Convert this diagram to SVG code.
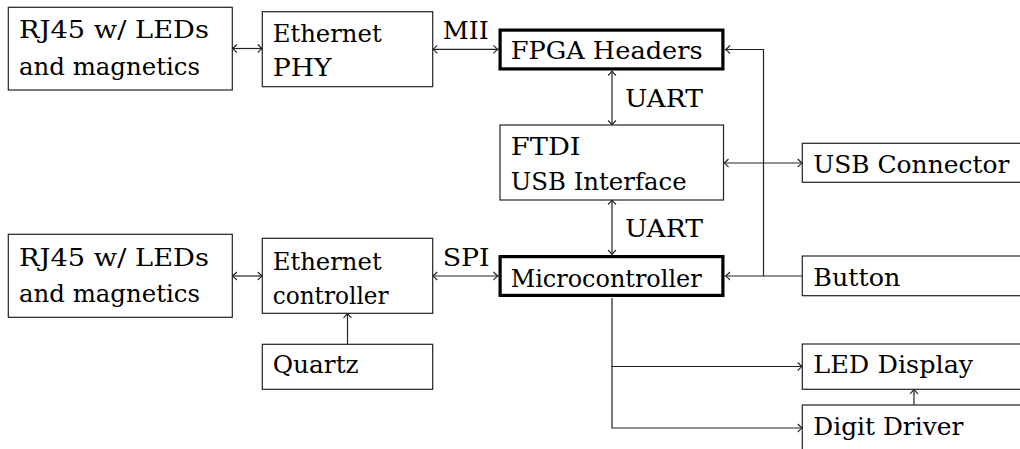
<svg xmlns="http://www.w3.org/2000/svg" width="1020" height="449" viewBox="0 0 1020 449">
<style>
  .box{fill:#fff;stroke:#222;stroke-width:1.2}
  .thick{fill:#fff;stroke:#000;stroke-width:3.2}
  .t{font-family:"DejaVu Serif","Liberation Serif",serif;font-size:25px;fill:#000}
  .c{fill:none;stroke:#222;stroke-width:1.2}
  .a2{marker-start:url(#ah);marker-end:url(#ah)}
  .a1{marker-end:url(#ah)}
</style>
<defs>
  <marker id="ah" markerUnits="userSpaceOnUse" markerWidth="12" markerHeight="12" viewBox="-6 -6 12 12" refX="0" refY="0" orient="auto-start-reverse">
    <path d="M -4.5 -4 Q -1.5 -0.8 0 0 Q -1.5 0.8 -4.5 4" fill="none" stroke="#222" stroke-width="1.1"/>
  </marker>
</defs>
<g id="connectors">
  <line class="c a2" x1="232.3" y1="48.5" x2="262.3" y2="48.5"/>
  <line class="c a2" x1="432.7" y1="49.3" x2="498" y2="49.3"/>
  <line class="c a2" x1="612" y1="71" x2="612" y2="125"/>
  <line class="c a2" x1="724" y1="163" x2="802.3" y2="163"/>
  <line class="c a2" x1="612" y1="200" x2="612" y2="254.5"/>
  <line class="c a2" x1="232.3" y1="276" x2="262.3" y2="276"/>
  <line class="c a2" x1="432.7" y1="276" x2="498" y2="276"/>
  <line class="c a1" x1="347.5" y1="344.3" x2="347.5" y2="313.3"/>
  <line class="c a1" x1="802.3" y1="276" x2="725.5" y2="276"/>
  <polyline class="c a1" points="763.5,276 763.5,49.5 725.5,49.5"/>
  <polyline class="c a1" points="612,298 612,366.5 802.3,366.5"/>
  <polyline class="c a1" points="612,366.5 612,428 802.3,428"/>
  <line class="c a1" x1="914" y1="405" x2="914" y2="389.3"/>
  <text class="t" x="442.7" y="39.3" textLength="46" lengthAdjust="spacingAndGlyphs">MII</text>
  <text class="t" x="625" y="107.3" textLength="78" lengthAdjust="spacingAndGlyphs">UART</text>
  <text class="t" x="625" y="237.3" textLength="78" lengthAdjust="spacingAndGlyphs">UART</text>
  <text class="t" x="442.7" y="266" textLength="47" lengthAdjust="spacingAndGlyphs">SPI</text>
</g>
<g id="rj45-top">
  <rect class="box" x="8.3" y="7.3" width="224" height="82.7"/>
  <text class="t" x="19" y="37.7" textLength="190" lengthAdjust="spacingAndGlyphs">RJ45 w/ LEDs</text>
  <text class="t" x="19" y="74.5" textLength="181" lengthAdjust="spacingAndGlyphs">and magnetics</text>
</g>
<g id="ethernet-phy">
  <rect class="box" x="262.3" y="11.7" width="170.4" height="75"/>
  <text class="t" x="272.7" y="41.7" textLength="109" lengthAdjust="spacingAndGlyphs">Ethernet</text>
  <text class="t" x="272.7" y="76" textLength="59" lengthAdjust="spacingAndGlyphs">PHY</text>
</g>
<g id="fpga-headers">
  <rect class="thick" x="500.1" y="30.1" width="222.8" height="38.8"/>
  <text class="t" x="510.7" y="59.3" textLength="192" lengthAdjust="spacingAndGlyphs">FPGA Headers</text>
</g>
<g id="ftdi">
  <rect class="box" x="500" y="125" width="223.5" height="75"/>
  <text class="t" x="510.7" y="155" textLength="70" lengthAdjust="spacingAndGlyphs">FTDI</text>
  <text class="t" x="510.7" y="190" textLength="176" lengthAdjust="spacingAndGlyphs">USB Interface</text>
</g>
<g id="usb-connector">
  <rect class="box" x="802.3" y="143.3" width="224" height="39"/>
  <text class="t" x="813.3" y="172.7" textLength="196" lengthAdjust="spacingAndGlyphs">USB Connector</text>
</g>
<g id="rj45-bottom">
  <rect class="box" x="8.3" y="234.3" width="224" height="83"/>
  <text class="t" x="19" y="266" textLength="190" lengthAdjust="spacingAndGlyphs">RJ45 w/ LEDs</text>
  <text class="t" x="19" y="301.7" textLength="181" lengthAdjust="spacingAndGlyphs">and magnetics</text>
</g>
<g id="ethernet-controller">
  <rect class="box" x="262.3" y="238.3" width="170.4" height="75"/>
  <text class="t" x="272.7" y="270" textLength="109" lengthAdjust="spacingAndGlyphs">Ethernet</text>
  <text class="t" x="272.7" y="304" textLength="116" lengthAdjust="spacingAndGlyphs">controller</text>
</g>
<g id="quartz">
  <rect class="box" x="262.3" y="344.3" width="170.4" height="45"/>
  <text class="t" x="272.7" y="373.3" textLength="86" lengthAdjust="spacingAndGlyphs">Quartz</text>
</g>
<g id="microcontroller">
  <rect class="thick" x="500.1" y="256.6" width="222.8" height="38.8"/>
  <text class="t" x="510.7" y="286.5" textLength="191" lengthAdjust="spacingAndGlyphs">Microcontroller</text>
</g>
<g id="button">
  <rect class="box" x="802.3" y="256" width="224" height="39.7"/>
  <text class="t" x="813.3" y="285.7" textLength="87" lengthAdjust="spacingAndGlyphs">Button</text>
</g>
<g id="led-display">
  <rect class="box" x="802.3" y="344" width="224" height="45.3"/>
  <text class="t" x="813.3" y="373.3" textLength="160" lengthAdjust="spacingAndGlyphs">LED Display</text>
</g>
<g id="digit-driver">
  <rect class="box" x="802.3" y="405" width="224" height="50"/>
  <text class="t" x="813.3" y="435" textLength="150" lengthAdjust="spacingAndGlyphs">Digit Driver</text>
</g>
</svg>
